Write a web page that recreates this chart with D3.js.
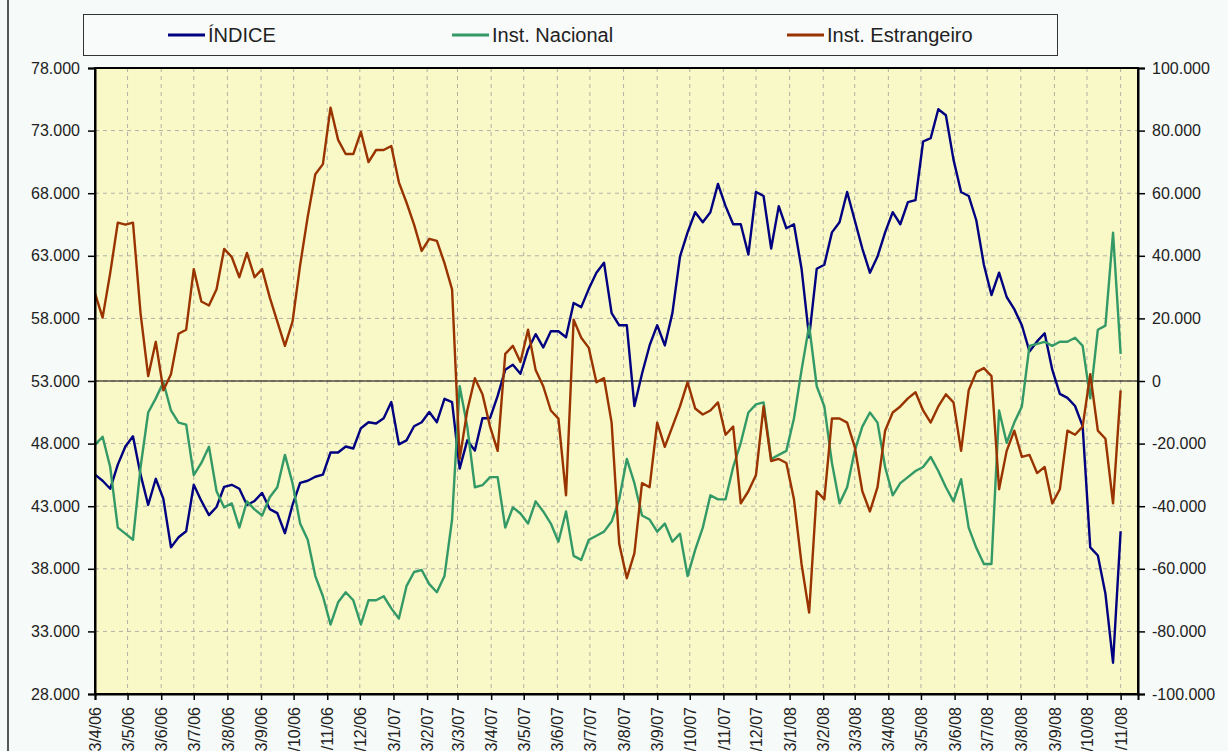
<!DOCTYPE html>
<html>
<head>
<meta charset="utf-8">
<script src="https://cdn.jsdelivr.net/npm/d3@7"></script>
<style>
  body { margin: 0; background: #f6faf8; }
  svg { display: block; font-family: "Liberation Sans", Arial, sans-serif; }
</style>
</head>
<body>
<svg id="chart"></svg>
<script>
// series names and colours
const seriesNames = ["ÍNDICE", "Inst. Nacional", "Inst. Estrangeiro"];
const seriesColors = ["#000080", "#339966", "#993300"];

// weekly observations (Mondays) from 03/04/06 to 03/11/08
const startDate = new Date(2006, 3, 3);
const lastDate = new Date(2008, 10, 4);
const axisEnd = new Date(2008, 10, 19);

// ÍNDICE (left axis)
const indice = [
  45520, 45030, 44390, 46320, 47770, 48580, 45520, 43100, 45190, 43580,
  39710, 40520, 41000, 44710, 43420, 42290, 42940, 44550, 44710, 44390,
  43100, 43420, 44060, 42770, 42450, 40840, 43100, 44870, 45030, 45350,
  45520, 47290, 47290, 47770, 47610, 49230, 49710, 49610, 50030, 51320,
  47940, 48260, 49390, 49710, 50520, 49710, 51580, 51320, 46000, 48260,
  47450, 50030, 50030, 51810, 53900, 54300, 53580, 55520, 56740, 55680,
  56970, 56970, 56490, 59230, 58900, 60360, 61650, 62450, 58420, 57450,
  57450, 51000, 53580, 55840, 57450, 55840, 58420, 62940, 64870, 66480,
  65680, 66480, 68740, 66970, 65520, 65520, 63100, 68100, 67780, 63580,
  66970, 65200, 65520, 61970, 56480, 61970, 62290, 64870, 65680, 68100,
  65840, 63580, 61650, 62940, 64870, 66480, 65520, 67290, 67450, 72130,
  72400, 74710, 74230, 70680, 68100, 67780, 65840, 62290, 59870, 61650,
  59710, 58740, 57450, 55360, 56160, 56810, 53900, 51970, 51650, 51000,
  49390, 39710, 39060, 36000, 30500, 41000
];

// Inst. Nacional (right axis)
const instNacional = [
  -20390, -17810, -27480, -46840, -48770, -50710, -27480, -10060, -5550, -390,
  -9420, -13290, -13940, -30060, -26190, -21030, -35220, -40380, -39100, -46840,
  -38450, -41030, -42970, -37160, -33940, -23610, -32640, -45550, -50710, -62320,
  -68770, -77800, -70710, -67480, -70060, -77800, -70060, -70060, -68770, -72640,
  -75870, -65550, -61030, -60390, -64900, -67480, -62320, -44260, -1680, -14580,
  -33940, -33290, -30710, -30710, -46840, -40390, -42320, -45550, -38450, -41680,
  -45550, -51350, -41680, -55870, -57160, -50710, -49420, -48130, -44900, -37810,
  -24900, -32640, -42970, -44260, -48130, -45550, -51350, -48770, -62320, -53930,
  -46840, -36520, -37810, -37810, -27480, -19740, -10060, -7480, -6840, -24900,
  -23610, -22320, -12000, 3480, 17680, -1680, -8130, -26190, -39100, -33940,
  -22320, -14580, -10060, -13290, -27480, -36520, -32640, -30710, -28770, -27480,
  -24260, -28770, -33940, -38450, -31350, -46840, -53290, -58450, -58450, -9420,
  -19740, -13290, -8130, 11230, 11870, 12520, 11230, 12520, 12520, 13810,
  11230, -5550, 16390, 17680, 47350, 8650
];

// Inst. Estrangeiro (right axis)
const instEstrangeiro = [
  28000, 20260, 34450, 50580, 49940, 50580, 21550, 1550, 12520, -2970,
  2190, 15100, 16390, 35740, 25420, 24130, 29290, 42190, 39610, 33160,
  40900, 33160, 35740, 26710, 18970, 11230, 18970, 37030, 52520, 66060,
  69290, 87350, 77030, 72510, 72510, 79610, 69930, 73800, 73800, 75100,
  63480, 57030, 49940, 41550, 45420, 44770, 37680, 29290, -24900, -9420,
  900, -4260, -14580, -22320, 8650, 11230, 6060, 16390, 3480, -1680,
  -9420, -12000, -36520, 19610, 13810, 10580, -390, 900, -13290, -52000,
  -63000, -55000, -32640, -33940, -13290, -21030, -14580, -8130, -390, -8770,
  -10710, -9420, -6840, -17160, -14580, -39100, -35220, -30060, -8130, -25550,
  -24900, -26190, -37810, -58450, -74000, -35220, -37810, -12000, -12000, -13290,
  -21030, -35220, -41680, -33940, -15870, -10060, -8130, -5550, -3610, -9420,
  -13290, -8130, -4260, -6840, -22320, -2970, 2840, 4130, 1550, -34580,
  -22320, -15870, -24260, -23610, -29420, -27480, -39100, -34580, -15870, -17160,
  -14580, 2190, -15870, -18450, -39100, -2970
];

const leftTicks = [28000, 33000, 38000, 43000, 48000, 53000, 58000, 63000, 68000, 73000, 78000];
const rightTicks = [-100000, -80000, -60000, -40000, -20000, 0, 20000, 40000, 60000, 80000, 100000];

const width = 1228, height = 751;
const margin = { top: 68, right: 90, bottom: 57, left: 95 };
const plotW = width - margin.left - margin.right;
const plotH = height - margin.top - margin.bottom;

const dates = d3.timeMonday.range(startDate, d3.timeDay.offset(lastDate, 1));
const monthTicks = d3.timeMonth.range(new Date(2006, 3, 1), new Date(2008, 11, 1))
  .map(d => d3.timeDay.offset(d, 2));

const br = d3.formatLocale({ decimal: ",", thousands: ".", grouping: [3], currency: ["R$", ""], minus: "-" });
const fmt = br.format(",d");
const dateFmt = d3.timeFormat("%d/%-m/%y");

const svg = d3.select("#chart").attr("width", width).attr("height", height);

// outer frame line on the left
svg.append("line").attr("x1", 8).attr("x2", 8).attr("y1", 0).attr("y2", height)
  .attr("stroke", "#222").attr("stroke-width", 1.5);

const g = svg.append("g").attr("transform", `translate(${margin.left},${margin.top})`);

const x = d3.scaleTime().domain([startDate, axisEnd]).range([0, plotW]);
const yL = d3.scaleLinear().domain([28000, 78000]).range([plotH, 0]);
const yR = d3.scaleLinear().domain([-100000, 100000]).range([plotH, 0]);

g.append("rect").attr("width", plotW).attr("height", plotH).attr("fill", "#f9f9c8");

// dashed grid
g.append("g").selectAll("line").data(leftTicks.slice(1, -1)).join("line")
  .attr("x1", 0).attr("x2", plotW).attr("y1", d => yL(d)).attr("y2", d => yL(d))
  .attr("stroke", "#b0b0a4").attr("stroke-dasharray", "4,4");
g.append("g").selectAll("line").data(monthTicks.slice(1)).join("line")
  .attr("x1", d => x(d)).attr("x2", d => x(d)).attr("y1", 0).attr("y2", plotH)
  .attr("stroke", "#b0b0a4").attr("stroke-dasharray", "4,4");

// zero line
g.append("line").attr("x1", 0).attr("x2", plotW).attr("y1", yR(0)).attr("y2", yR(0))
  .attr("stroke", "#000").attr("stroke-width", 1.2);

// series
const series = [
  { values: indice, y: yL },
  { values: instNacional, y: yR },
  { values: instEstrangeiro, y: yR }
];
series.forEach((s, i) => {
  const line = d3.line().x((d, j) => x(dates[j])).y(d => s.y(d));
  g.append("path").datum(s.values).attr("d", line)
    .attr("fill", "none").attr("stroke", seriesColors[i]).attr("stroke-width", 2.4)
    .attr("stroke-linejoin", "round");
});

// plot border
g.append("rect").attr("width", plotW).attr("height", plotH)
  .attr("fill", "none").attr("stroke", "#000").attr("stroke-width", 2);

// axes
const axisL = g.append("g").call(d3.axisLeft(yL).tickValues(leftTicks).tickFormat(fmt).tickSizeOuter(0).tickSize(7));
const axisR = g.append("g").attr("transform", `translate(${plotW},0)`)
  .call(d3.axisRight(yR).tickValues(rightTicks).tickFormat(fmt).tickSizeOuter(0).tickSize(7));
const axisB = g.append("g").attr("transform", `translate(0,${plotH})`)
  .call(d3.axisBottom(x).tickValues(monthTicks).tickFormat(dateFmt).tickSizeOuter(0).tickSize(6));

[axisL, axisR, axisB].forEach(a => {
  a.select(".domain").attr("stroke", "#000").attr("stroke-width", 2);
  a.selectAll(".tick line").attr("stroke", "#000").attr("stroke-width", 1.5);
  a.selectAll("text").attr("fill", "#222").style("font-size", "16px")
    .style("font-family", "'Liberation Sans', Arial, sans-serif");
});
axisL.selectAll("text").attr("x", -15);
axisR.selectAll("text").attr("x", 14);
axisB.selectAll("text")
  .attr("transform", "rotate(-90)")
  .attr("text-anchor", "end")
  .attr("x", -13).attr("y", 0).attr("dy", "0.35em");

// legend
const legend = svg.append("g");
legend.append("rect").attr("x", 83.5).attr("y", 14.5).attr("width", 974).attr("height", 41)
  .attr("fill", "#f8fbfa").attr("stroke", "#333").attr("stroke-width", 1);
const legendX = [168, 452, 787];
seriesNames.forEach((name, i) => {
  legend.append("line").attr("x1", legendX[i]).attr("x2", legendX[i] + 37)
    .attr("y1", 35).attr("y2", 35).attr("stroke", seriesColors[i]).attr("stroke-width", 3);
  legend.append("text").attr("x", legendX[i] + 40).attr("y", 35).attr("dy", "0.35em")
    .attr("fill", "#222").style("font-size", "20px").text(name);
});
</script>
</body>
</html>
